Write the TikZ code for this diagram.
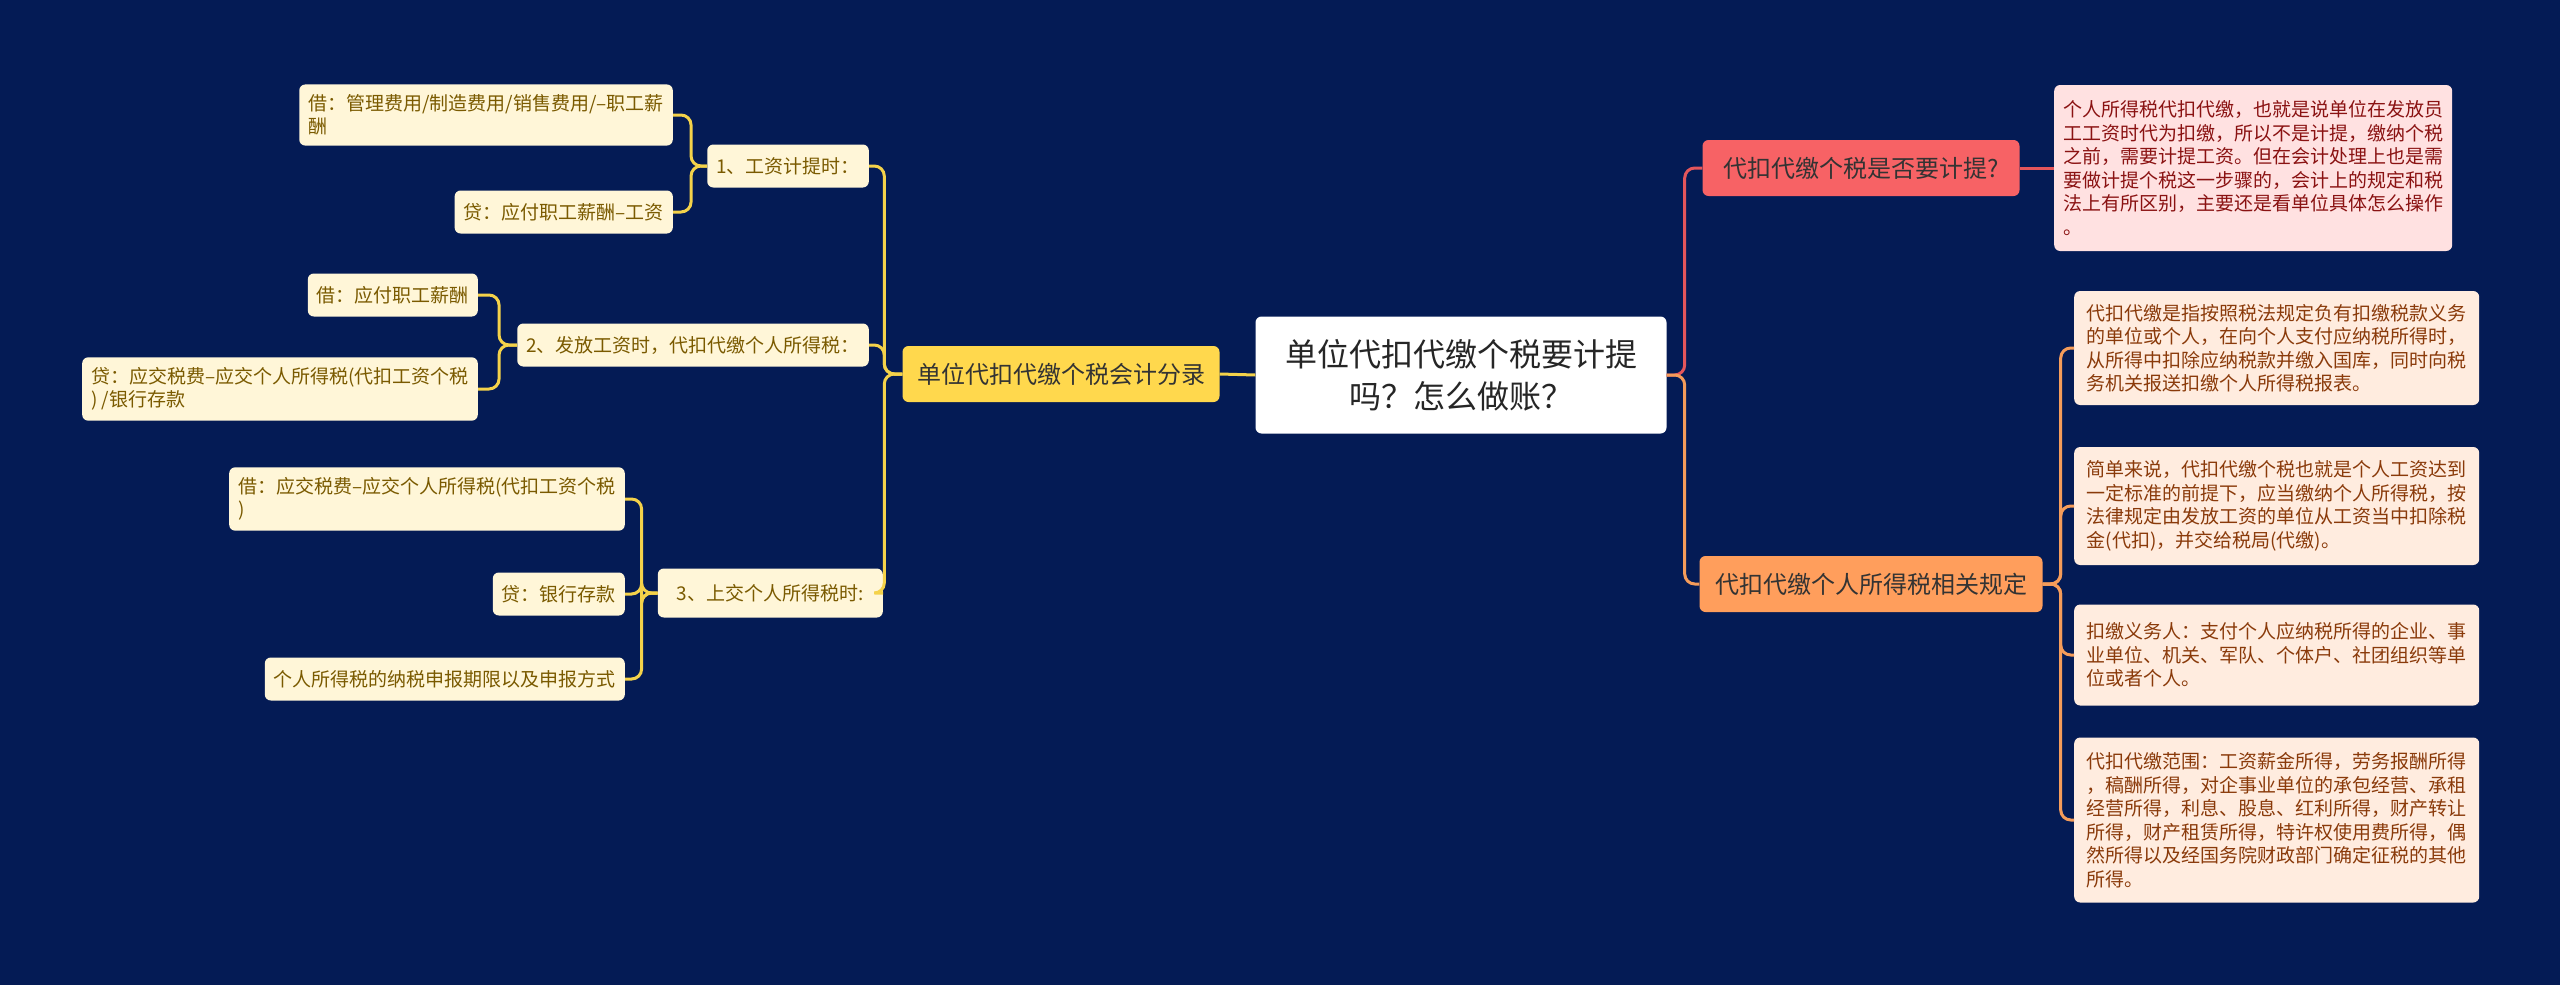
\documentclass[tikz,border=0pt]{standalone}
\usepackage{fontspec}
\setmainfont{Noto Sans CJK SC}
\definecolor{bgblue}{HTML}{041B55}
\definecolor{leaffill}{HTML}{FFF6D8}
\definecolor{leaftext}{HTML}{7A5A00}
\definecolor{yelfill}{HTML}{FFD84D}
\definecolor{yelline}{HTML}{F4D24A}
\definecolor{redfill}{HTML}{F76265}
\definecolor{redline}{HTML}{E4565B}
\definecolor{pinkfill}{HTML}{FFE1E1}
\definecolor{pinktext}{HTML}{8A1212}
\definecolor{orgfill}{HTML}{FF9E5C}
\definecolor{orgline}{HTML}{F59C5A}
\definecolor{rfill}{HTML}{FFECDF}
\definecolor{rtext}{HTML}{8A3A0A}
\tikzset{
  box/.style={rounded corners=6pt, align=left, inner xsep=9pt, inner ysep=10pt},
  leaf/.style={box, fill=leaffill, text=leaftext, minimum height=43pt,
    font={\fontsize{19}{23.5}\selectfont}},
  topic/.style={rounded corners=6pt, minimum height=56pt, inner xsep=10pt,
    font={\fontsize{24}{30}\selectfont}},
  rbox/.style={box, fill=rfill, text=rtext, minimum width=405pt,
    font={\fontsize{19}{23.5}\selectfont}},
  link/.style={line width=3pt, rounded corners=10pt}
}
\begin{document}
\begin{tikzpicture}[x=1pt, y=-1pt]
  % Background
  \fill[bgblue] (0,0) rectangle (2560,985);
  \useasboundingbox (0,0) rectangle (2560,985);

  % Root
  \node[fill=white, text=black!85, rounded corners=6pt, minimum width=411pt,
    minimum height=117pt, align=center, font={\fontsize{32}{42}\selectfont}]
    (root) at (1461,375) {单位代扣代缴个税要计提\\吗？怎么做账？};

  % Left branch
  \node[topic, fill=yelfill, text=black!80, minimum width=317pt] (entry)
    at (1061,374) {单位代扣代缴个税会计分录};
  \node[leaf, anchor=east] (pay) at (869,166) {1、工资计提时：};
  \node[leaf, anchor=east] (payA) at (673,115) {借：管理费用/制造费用/销售费用/–职工薪\\酬};
  \node[leaf, anchor=east] (payB) at (673,212) {贷：应付职工薪酬–工资};
  \node[leaf, anchor=east] (wage) at (869,345) {2、发放工资时，代扣代缴个人所得税：};
  \node[leaf, anchor=east] (wageA) at (478,295) {借：应付职工薪酬};
  \node[leaf, anchor=east] (wageB) at (478,389) {贷：应交税费–应交个人所得税(代扣工资个税\\) /银行存款};
  \node[leaf, anchor=east, minimum width=225pt, minimum height=49pt] (hand)
    at (883,593) {3、上交个人所得税时:};
  \node[leaf, anchor=east] (handA) at (625,499) {借：应交税费–应交个人所得税(代扣工资个税\\)};
  \node[leaf, anchor=east] (handB) at (625,594) {贷：银行存款};
  \node[leaf, anchor=east] (handC) at (625,679) {个人所得税的纳税申报期限以及申报方式};

  % Right branch
  \node[topic, fill=redfill, text=black!80, minimum width=317pt] (ask)
    at (1861,168) {代扣代缴个税是否要计提?};
  \node[box, fill=pinkfill, text=pinktext, anchor=west, minimum height=166pt,
    font={\fontsize{19}{23.5}\selectfont}] (answer) at (2054,168)
    {个人所得税代扣代缴，也就是说单位在发放员\\工工资时代为扣缴，所以不是计提，缴纳个税\\之前，需要计提工资。但在会计处理上也是需\\要做计提个税这一步骤的，会计上的规定和税\\法上有所区别，主要还是看单位具体怎么操作\\。};
  \node[topic, fill=orgfill, text=black!80, minimum width=343pt] (rule)
    at (1871,584) {代扣代缴个人所得税相关规定};
  \node[rbox, anchor=west, minimum height=114pt] (r1) at (2074,348)
    {代扣代缴是指按照税法规定负有扣缴税款义务\\的单位或个人，在向个人支付应纳税所得时，\\从所得中扣除应纳税款并缴入国库，同时向税\\务机关报送扣缴个人所得税报表。};
  \node[rbox, anchor=west, minimum height=118pt] (r2) at (2074,506)
    {简单来说，代扣代缴个税也就是个人工资达到\\一定标准的前提下，应当缴纳个人所得税，按\\法律规定由发放工资的单位从工资当中扣除税\\金(代扣)，并交给税局(代缴)。};
  \node[rbox, anchor=west, minimum height=101pt] (r3) at (2074,655)
    {扣缴义务人：支付个人应纳税所得的企业、事\\业单位、机关、军队、个体户、社团组织等单\\位或者个人。};
  \node[rbox, anchor=west, minimum height=165pt] (r4) at (2074,820)
    {代扣代缴范围：工资薪金所得，劳务报酬所得\\，稿酬所得，对企事业单位的承包经营、承租\\经营所得，利息、股息、红利所得，财产转让\\所得，财产租赁所得，特许权使用费所得，偶\\然所得以及经国务院财政部门确定征税的其他\\所得。};

  % Connectors, left
  \draw[link, yelline] (root.west) -- (entry.east);
  \foreach \n in {pay,wage,hand}
    \draw[link, yelline] (entry.west) -- ++(-18,0) |- (\n.east);
  \foreach \n in {payA,payB}
    \draw[link, yelline] (pay.west) -- ++(-16,0) |- (\n.east);
  \foreach \n in {wageA,wageB}
    \draw[link, yelline] (wage.west) -- ++(-18,0) |- (\n.east);
  \foreach \n in {handA,handB,handC}
    \draw[link, yelline] (hand.west) -- ++(-16,0) |- (\n.east);

  % Connectors, right
  \draw[link, redline] (root.east) -- ++(18,0) |- (ask.west);
  \draw[link, orgline] (root.east) -- ++(18,0) |- (rule.west);
  \draw[link, redline] (ask.east) -- (answer.west);
  \foreach \n in {r1,r2,r3,r4}
    \draw[link, orgline] (rule.east) -- ++(18,0) |- (\n.west);
\end{tikzpicture}
\end{document}
